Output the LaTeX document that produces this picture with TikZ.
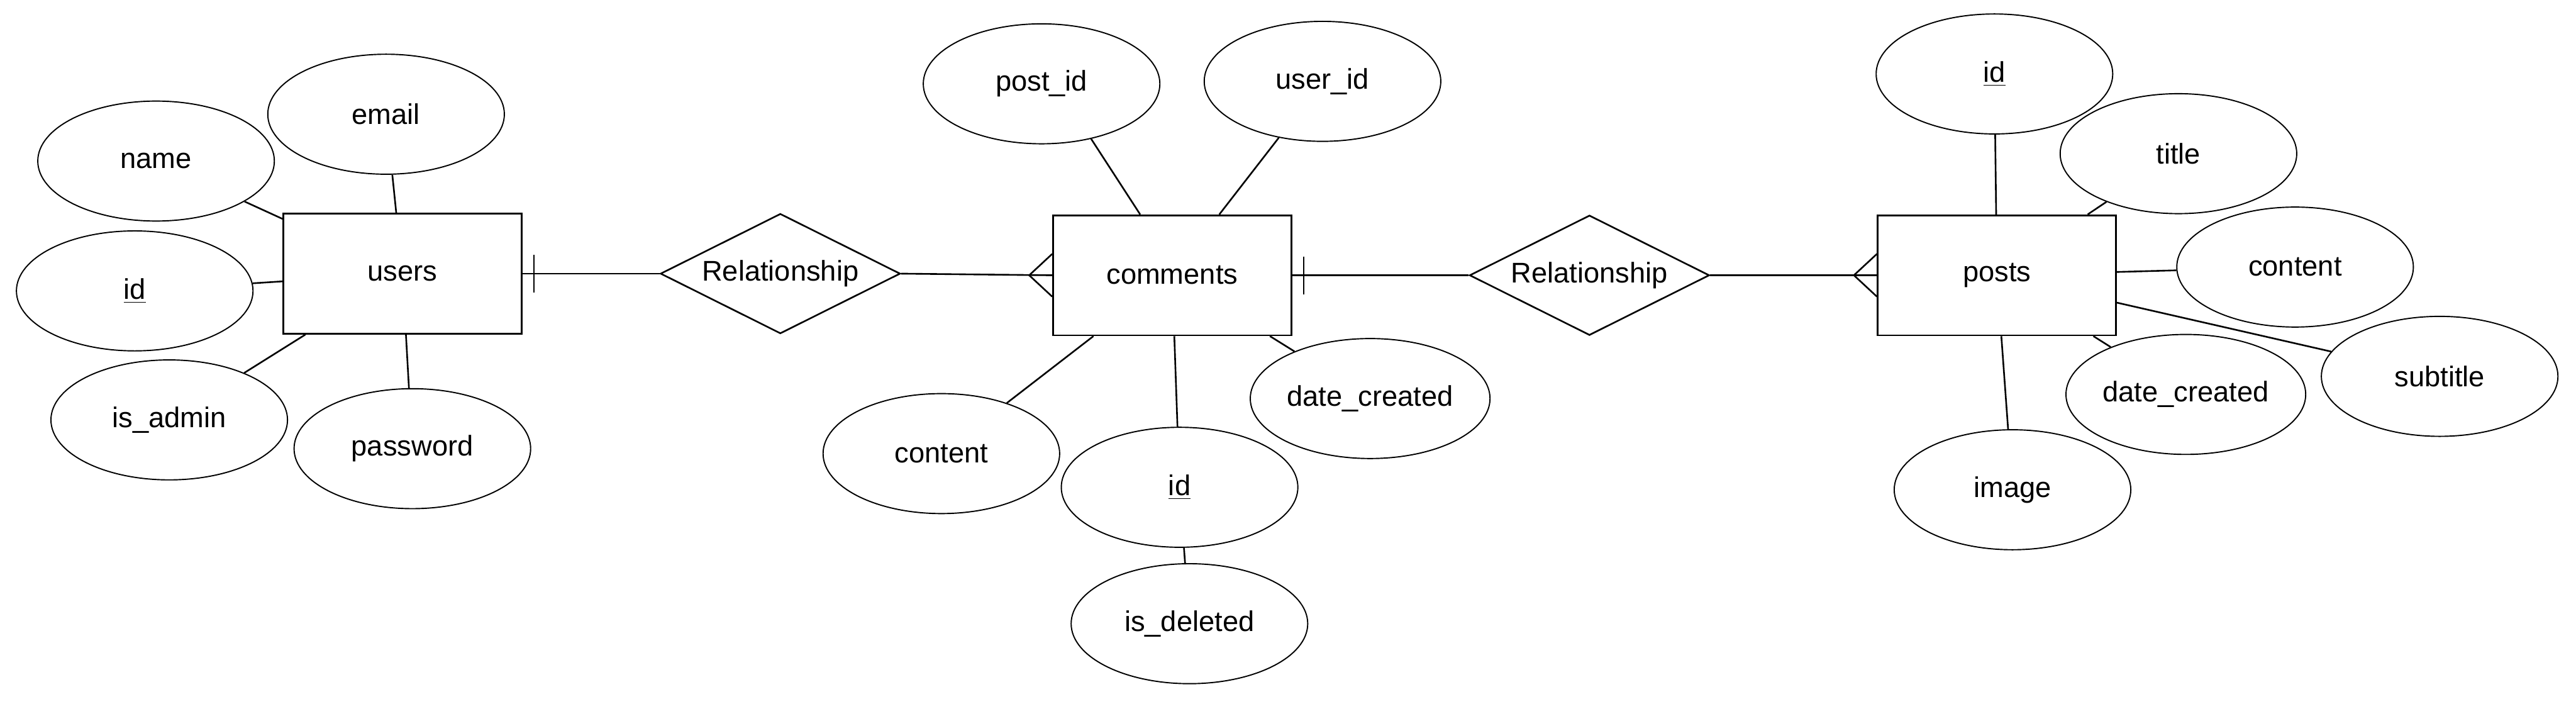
\documentclass[tikz,border=0pt]{standalone}
\usepackage{fontspec}
\setmainfont{Liberation Sans}
\usetikzlibrary{shapes.geometric}

\tikzset{every picture/.style={line width=0.75pt}}
\tikzset{
  entity/.style={draw, rectangle, line width=0.8pt, minimum width=108.75pt, minimum height=54.75pt, inner sep=0.75pt},
  attr/.style={draw, ellipse, line width=0.55pt, minimum width=108pt, minimum height=54.75pt, inner sep=0.75pt},
  relation/.style={draw, diamond, aspect=2, line width=0.75pt, minimum width=109.5pt, minimum height=54.75pt, inner sep=0pt},
}

\begin{document}
\begin{tikzpicture}[x=0.75pt,y=0.75pt,yscale=-1,xscale=1,font=\fontsize{13}{15.6}\selectfont]
\useasboundingbox (0,0) rectangle (1568,428);

% users entity
\node [entity] (users) at (245,166.5) {users};
\node [attr] (uname) at (95,98) {name};
\node [attr] (uemail) at (235,69.5) {email};
\node [attr] (uid) at (82,177) {\underline{id}};
\node [attr] (uadmin) at (103,255.5) {is\_admin};
\node [attr] (upass) at (251,273) {password};

% comments entity
\node [entity] (comm) at (713.5,167.5) {comments};
\node [attr] (cpost) at (634,51) {post\_id};
\node [attr] (cuser) at (805,49.5) {user\_id};
\node [attr] (ccontent) at (573,276) {content};
\node [attr] (cid) at (718,296.5) {\underline{id}};
\node [attr] (cdate) at (834,242.5) {date\_created};
\node [attr] (cdel) at (724,379.5) {is\_deleted};

% posts entity
\node [entity] (posts) at (1215.5,167.5) {posts};
\node [attr] (pid) at (1214,45) {\underline{id}};
\node [attr] (ptitle) at (1326,93.5) {title};
\node [attr] (pcontent) at (1397,162.5) {content};
\node [attr] (psub) at (1485,229) {subtitle};
\node [attr] (pdate) at (1330.5,240) {date\_created};
\node [attr] (pimage) at (1225,298) {image};

% relationships
\node [relation] (rel1) at (475,166.5) {Relationship};
\node [relation] (rel2) at (967.5,167.5) {Relationship};

% attribute lines
\foreach \a in {uname,uemail,uid,uadmin,upass} \draw (\a) -- (users);
\draw (cpost.-48) -- ([shift={(-19.5,0)}]comm.north);
\foreach \a in {cuser,ccontent,cid,cdate} \draw (\a) -- (comm);
\draw (cdel) -- (cid);
\foreach \a in {pid,ptitle,pcontent,psub,pdate,pimage} \draw (\a) -- (posts);

% users -> comments
\draw (users.east) -- (rel1.west);
\draw ([shift={(7,-11.5)}]users.east) -- ([shift={(7,11.5)}]users.east);
\draw (rel1.east) -- (comm.west);
\draw ([shift={(0,-13)}]comm.west) -- ([shift={(-14,0)}]comm.west) -- ([shift={(0,13)}]comm.west);

% comments -> posts
\draw (comm.east) -- (rel2.west);
\draw ([shift={(7,-11.5)}]comm.east) -- ([shift={(7,11.5)}]comm.east);
\draw (rel2.east) -- (posts.west);
\draw ([shift={(0,-13)}]posts.west) -- ([shift={(-14,0)}]posts.west) -- ([shift={(0,13)}]posts.west);
\end{tikzpicture}
\end{document}
